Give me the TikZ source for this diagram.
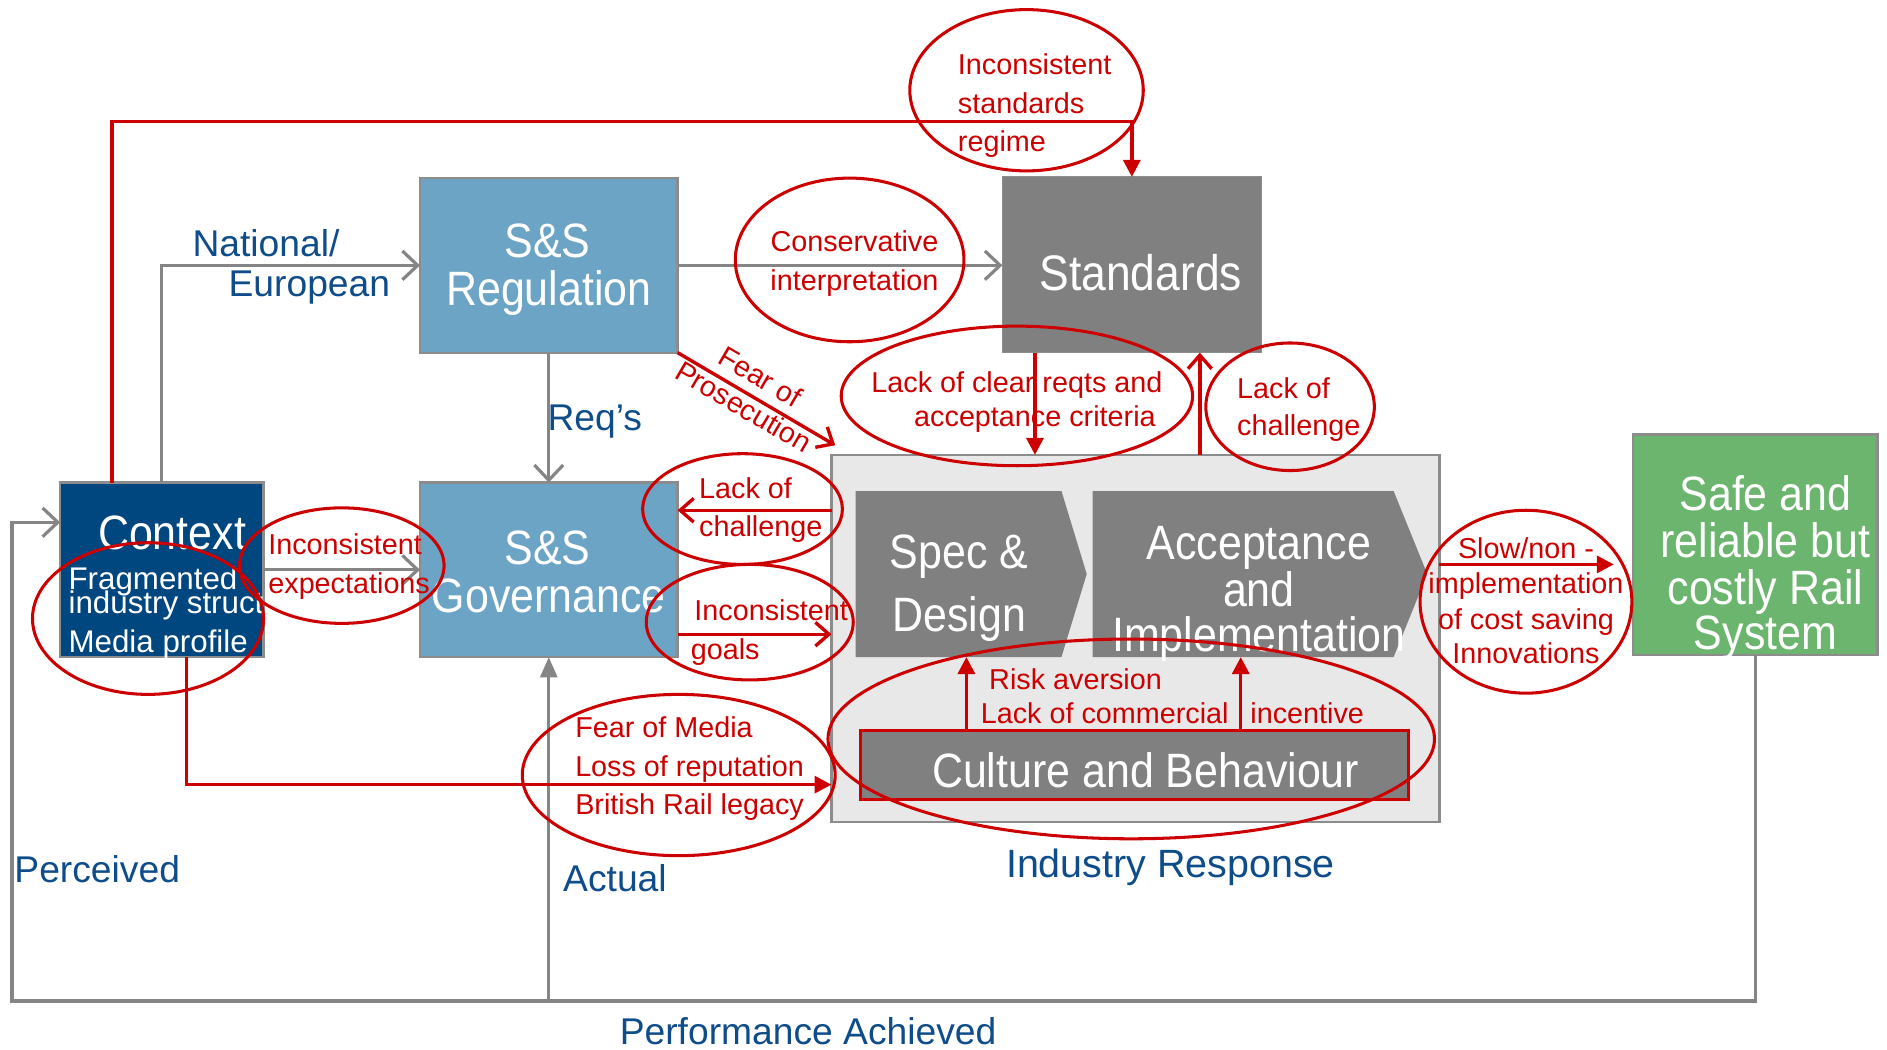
\documentclass[tikz,border=0pt]{standalone}
\usepackage{fontspec}
\setmainfont{Liberation Sans}
\newfontfamily\narrowfont[FakeStretch=0.89]{Liberation Sans}
\usetikzlibrary{arrows.meta,calc}
\definecolor{ctxblue}{HTML}{00467F}
\definecolor{regblue}{HTML}{6CA4C6}
\definecolor{boxgray}{HTML}{808080}
\definecolor{panelgray}{HTML}{E8E8E8}
\definecolor{safegreen}{HTML}{6CB56E}
\definecolor{edgegray}{HTML}{8C8C8C}
\definecolor{linegray}{HTML}{858585}
\definecolor{rred}{HTML}{CC0000}
\definecolor{lblue}{HTML}{0E4C8A}
\tikzset{
  lbl/.style={inner sep=0pt, outer sep=0pt},
  boxfnt/.style={lbl, text=white, font=\narrowfont\fontsize{28.5}{30}\selectfont, anchor=base},
  redfnt/.style={lbl, text=rred, font=\fontsize{17}{20}\selectfont, anchor=base west},
  redmid/.style={redfnt, anchor=base},
  bluefnt/.style={lbl, text=lblue, font=\fontsize{22}{26}\selectfont, anchor=base west},
  ctxfnt/.style={lbl, text=white, font=\fontsize{18.5}{20}\selectfont, anchor=base west},
  panel/.style={inner sep=0pt, outer sep=0pt, draw=edgegray, line width=1.3pt},
  grayarrow/.style={draw=linegray, line width=1.9pt, -{Straight Barb[length=9pt,width=17pt]}},
  redbarb/.style={draw=rred, line width=2pt, -{Straight Barb[length=8pt,width=14pt]}},
  redtri/.style={draw=rred, line width=2pt, -{Triangle[length=10pt,width=10pt]}},
  ring/.style={draw=rred, line width=1.8pt},
}
\begin{document}
\begin{tikzpicture}[x=0.025cm,y=-0.025cm]
\useasboundingbox (0,0) rectangle (1568,872);

% ---- main boxes ----
\node[panel, fill=ctxblue, minimum width=4.225cm, minimum height=3.625cm] (ctx) at (134.5,473.5) {};
\node[panel, fill=regblue, minimum width=5.35cm, minimum height=3.625cm] (reg) at (456,220.5) {};
\node[panel, fill=regblue, minimum width=5.35cm, minimum height=3.625cm] (gov) at (456,473.5) {};
\node[panel, fill=boxgray, draw=boxgray!90, line width=0.6pt, minimum width=5.375cm, minimum height=3.65cm] (std) at (940.5,220) {};
\node[panel, fill=panelgray, minimum width=12.625cm, minimum height=7.625cm] (ind) at (943.5,530.5) {};
\node[panel, fill=safegreen, minimum width=5.075cm, minimum height=4.575cm] (safe) at (1458.5,452.5) {};

% process chevrons inside the industry panel
\fill[boxgray] (711,408) -- (882,408) -- (903,477) -- (882,546) -- (711,546) -- cycle;
\fill[boxgray] (908,408) -- (1158,408) -- (1186,477) -- (1158,546) -- (908,546) -- cycle;
\coordinate (specS) at (803,546);
\coordinate (accS) at (1031,546);
\node[inner sep=0pt, outer sep=0pt, fill=boxgray, draw=rred, line width=1.8pt, minimum width=11.375cm, minimum height=1.425cm] (cult) at (942.5,635.5) {};

% ---- box titles ----
\node[boxfnt] (ctxT) at (143,457) {Context};
\begin{scope}
  \clip (ctx.south west) rectangle (ctx.north east);
  \node[ctxfnt] (ctx1) at (57,490) {Fragmented};
  \node[ctxfnt] (ctx2) at (57,510) {industry structure};
  \node[ctxfnt] (ctx3) at (57,542) {Media profile};
\end{scope}
\node[boxfnt] (regT1) at (455,214) {S\&S};
\node[boxfnt] (regT2) at (456,254) {Regulation};
\node[boxfnt] (govT1) at (455,469) {S\&S};
\node[boxfnt] (govT2) at (456,509) {Governance};
\node[boxfnt, font=\narrowfont\fontsize{29.5}{30}\selectfont] (stdT) at (948,241) {Standards};
\node[boxfnt] (specT1) at (797,472) {Spec \&};
\node[boxfnt] (specT2) at (797,525) {Design};
\node[boxfnt] (accT1) at (1046,465) {Acceptance};
\node[boxfnt] (accT2) at (1046,504) {and};
\node[boxfnt] (accT3) at (1046,541) {Implementation};
\node[boxfnt] (cultT) at (952,654) {Culture and Behaviour};
\node[boxfnt] (safeT1) at (1467,424) {Safe and};
\node[boxfnt] (safeT2) at (1467,463) {reliable but};
\node[boxfnt] (safeT3) at (1467,502) {costly Rail};
\node[boxfnt] (safeT4) at (1467,540) {System};

% ---- grey information flows ----
\draw[grayarrow] (ctx.north) |- (reg.west);
\draw[grayarrow] (reg.east) -- (reg.east -| std.west);
\draw[grayarrow] (reg.south) -- (gov.north);
\draw[grayarrow] (ctx.east) -- (gov.west);
\draw[linegray, line width=2.5pt] (10,832) -- (safe.south |- 0,832);
\draw[grayarrow] (safe.south) -- (safe.south |- 0,832) -- (10,832) -- (10,434) -- (ctx.west |- 0,434);
\draw[linegray, line width=1.9pt, -{Triangle[length=12pt,width=10pt]}] (gov.south |- 0,832) -- (gov.south);

% ---- blue labels ----
\node[bluefnt] (natl) at (160,213) {National/};
\node[bluefnt] (euro) at (190,246) {European};
\node[bluefnt] (reqts) at (455,358) {Req’s};
\node[bluefnt] (perc) at (12,733) {Perceived};
\node[bluefnt] (actual) at (468,741) {Actual};
\node[bluefnt, font=\fontsize{23.3}{26}\selectfont] (indresp) at (836,729) {Industry Response};
\node[bluefnt] (perf) at (515,868) {Performance Achieved};

% ---- red influences ----
\draw[redtri] (ctx.north -| 93,0) -- (93,101) -| (std.north);
\draw[redtri] (ctx.south -| 155,0) |- (ind.west |- 0,652);
\draw[redbarb] (reg.south east) -- (694,370);
\draw[redtri] (std.south -| 860,0) -- (ind.north -| 860,0);
\draw[redbarb] (ind.north -| 997,0) -- (std.south -| 997,0);
\draw[redbarb] (ind.west |- 0,424) -- (gov.east |- 0,424);
\draw[redbarb] (gov.east |- 0,527) -- (ind.west |- 0,527);
\draw[redtri] (cult.north -| specS) -- (specS);
\draw[redtri] (cult.north -| accS) -- (accS);
\coordinate (slowEnd) at (1341,469);
\draw[redtri] (ind.east |- slowEnd) -- (slowEnd);

% ---- red annotations ----
\node[redfnt] (isr1) at (796,62) {Inconsistent};
\node[redfnt] (isr2) at (796,94) {standards};
\node[redfnt] (isr3) at (796,126) {regime};
\node[redmid] (cons1) at (710,209) {Conservative};
\node[redmid] (cons2) at (710,241) {interpretation};
\node[redmid] (lcr1) at (845,326) {Lack of clear reqts and};
\node[redmid] (lcr2) at (860,354) {acceptance criteria};
\node[redfnt] (loc1) at (1028,331) {Lack of};
\node[redfnt] (loc2) at (1028,362) {challenge};
\node[lbl, text=rred, font=\fontsize{17}{20}\selectfont, rotate=-30.4] (fop1) at (632,313) {Fear of};
\node[lbl, text=rred, font=\fontsize{17}{20}\selectfont, rotate=-30.4] (fop2) at (618,338) {Prosecution};
\node[redfnt] (locg1) at (581,414) {Lack of};
\node[redfnt] (locg2) at (581,446) {challenge};
\node[redfnt] (ig1) at (577,516) {Inconsistent};
\node[redfnt] (ig2) at (574,548) {goals};
\node[redfnt] (ie1) at (223,461) {Inconsistent};
\node[redfnt] (ie2) at (223,493) {expectations};
\node[redfnt] (fom1) at (478,613) {Fear of Media};
\node[redfnt] (fom2) at (478,645) {Loss of reputation};
\node[redfnt] (fom3) at (478,677) {British Rail legacy};
\node[redfnt] (risk1) at (822,573) {Risk aversion};
\node[redfnt] (risk2) at (815,601) {Lack of commercial};
\node[redfnt] (risk3) at (1039,601) {incentive};
\node[redmid] (slow1) at (1268,464) {Slow/non -};
\node[redmid] (slow2) at (1268,493) {implementation};
\node[redmid] (slow3) at (1268,523) {of cost saving};
\node[redmid] (slow4) at (1268,551) {Innovations};

% ---- red rings ----
\draw[ring] (853,75) ellipse [x radius=97, y radius=67];
\draw[ring] (706,216) ellipse [x radius=95, y radius=68];
\draw[ring] (845,329) ellipse [x radius=146, y radius=58];
\draw[ring] (1072,338) ellipse [x radius=70, y radius=53];
\draw[ring] (617,423) ellipse [x radius=83, y radius=46];
\draw[ring] (623,517) ellipse [x radius=86, y radius=48];
\draw[ring] (284,470) ellipse [x radius=85, y radius=48];
\draw[ring] (123,514) ellipse [x radius=96, y radius=63];
\draw[ring] (564,644) ellipse [x radius=130, y radius=67];
\draw[ring] (940,614) ellipse [x radius=252, y radius=83];
\draw[ring] (1268,500) ellipse [x radius=88, y radius=76];
\end{tikzpicture}
\end{document}
